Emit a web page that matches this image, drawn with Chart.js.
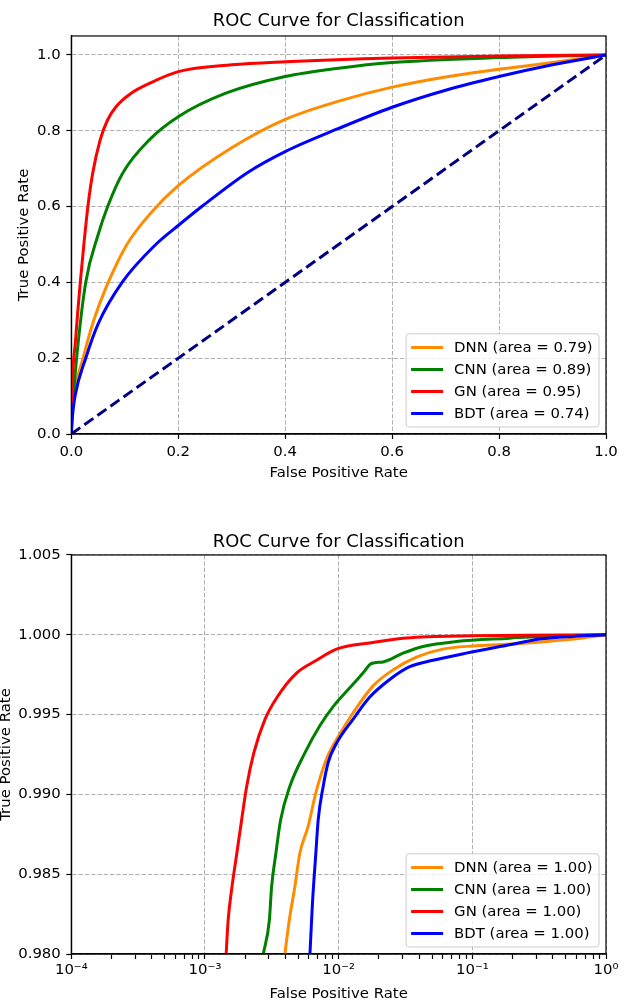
<!DOCTYPE html>
<html>
<head>
<meta charset="utf-8">
<script src="https://cdn.jsdelivr.net/npm/chart.js@4.4.0/dist/chart.umd.min.js"></script>
<style>
  html, body { margin: 0; padding: 0; background: #fff; }
  canvas { display: block; }
</style>
</head>
<body>
<canvas id="roc-lin" width="630" height="495"></canvas>
<canvas id="roc-log" width="630" height="508"></canvas>
<script>
// ── Données ──────────────────────────────────────────────────────────────────
const models = ['DNN', 'CNN', 'GN', 'BDT'];
const modelColors = ['#ff8c00', '#008000', '#ff0000', '#0000ff'];
const areasLin = [0.79, 0.89, 0.95, 0.74];
const areasLog = [1.00, 1.00, 1.00, 1.00];

// courbes ROC, échelle linéaire
const dnnFpr = [0, 0.0015, 0.005, 0.022, 0.042, 0.066, 0.104, 0.15, 0.2, 0.3, 0.4, 0.5, 0.6, 0.7, 0.8, 0.9, 1.0];
const dnnTpr = [0, 0.045, 0.1, 0.2, 0.3, 0.39, 0.5, 0.585, 0.655, 0.755, 0.83, 0.878, 0.915, 0.942, 0.962, 0.98, 1.0];
const cnnFpr = [0, 0.002, 0.01, 0.027, 0.05, 0.068, 0.096, 0.146, 0.2, 0.289, 0.4, 0.5, 0.6, 0.8, 1.0];
const cnnTpr = [0, 0.06, 0.2, 0.4, 0.525, 0.6, 0.688, 0.776, 0.837, 0.899, 0.943, 0.965, 0.98, 0.993, 1.0];
const gnFpr = [0, 0.001, 0.008, 0.0168, 0.0235, 0.031, 0.040, 0.054, 0.068, 0.084, 0.112, 0.146, 0.2, 0.3, 0.4, 0.6, 0.8, 1.0];
const gnTpr = [0, 0.09, 0.248, 0.4, 0.5, 0.6, 0.688, 0.776, 0.829, 0.864, 0.899, 0.925, 0.956, 0.974, 0.982, 0.992, 0.997, 1.0];
const bdtFpr = [0, 0.002, 0.007, 0.027, 0.05, 0.095, 0.158, 0.2, 0.244, 0.33, 0.4, 0.5, 0.6, 0.7, 0.8, 0.9, 1.0];
const bdtTpr = [0, 0.045, 0.1, 0.2, 0.29, 0.4, 0.5, 0.55, 0.6, 0.69, 0.745, 0.806, 0.862, 0.907, 0.943, 0.974, 1.0];
const chanceFpr = [0, 1];
const chanceTpr = [0, 1];

// zoom près de TPR = 1, FPR en log
const dnnFprZoom = [3.96e-3, 4.27e-3, 4.70e-3, 5.12e-3, 5.91e-3, 6.75e-3, 8.1e-3, 9.9e-3, 1.28e-2, 1.81e-2, 2.55e-2, 3.82e-2, 6.0e-2, 0.101, 0.18, 0.378, 0.67, 1];
const dnnTprZoom = [0.9800, 0.9821, 0.9842, 0.9863, 0.9880, 0.9901, 0.9922, 0.9936, 0.9951, 0.9968, 0.9978, 0.9986, 0.9991, 0.9993, 0.9994, 0.9996, 0.9998, 1];
const cnnFprZoom = [2.73e-3, 3.03e-3, 3.15e-3, 3.39e-3, 3.68e-3, 4.31e-3, 5.59e-3, 7.23e-3, 9.1e-3, 1.25e-2, 1.52e-2, 1.76e-2, 2.15e-2, 3.03e-2, 4.28e-2, 7.6e-2, 0.19, 0.32, 1];
const cnnTprZoom = [0.9800, 0.9821, 0.9842, 0.9863, 0.9884, 0.9905, 0.9926, 0.9943, 0.9955, 0.9968, 0.9976, 0.9982, 0.9983, 0.99885, 0.99927, 0.99958, 0.99979, 0.9999, 1];
const gnFprZoom = [1.44e-3, 1.49e-3, 1.58e-3, 1.73e-3, 1.88e-3, 2.05e-3, 2.32e-3, 2.81e-3, 3.47e-3, 4.84e-3, 6.83e-3, 9.63e-3, 1.76e-2, 3.21e-2, 0.101, 1];
const gnTprZoom = [0.9800, 0.9821, 0.9840, 0.9863, 0.9884, 0.9905, 0.9926, 0.9947, 0.9961, 0.9976, 0.9984, 0.9991, 0.9995, 0.9998, 0.99994, 1];
const bdtFprZoom = [6.1e-3, 6.37e-3, 6.75e-3, 7.03e-3, 7.66e-3, 8.35e-3, 9.64e-3, 1.28e-2, 1.71e-2, 2.41e-2, 3.40e-2, 5.08e-2, 9.0e-2, 0.19, 0.319, 0.565, 1];
const bdtTprZoom = [0.9800, 0.9832, 0.9863, 0.9884, 0.9905, 0.9920, 0.9932, 0.9947, 0.9961, 0.9972, 0.9980, 0.9984, 0.99885, 0.99937, 0.99973, 0.9999, 1];

// graduations
const linTicks = [0, 0.2, 0.4, 0.6, 0.8, 1.0];
const zoomTprTicks = [0.980, 0.985, 0.990, 0.995, 1.000, 1.005];
const logDecades = [-4, -3, -2, -1, 0];
const logMinors = [2, 3, 4, 5, 6, 7, 8, 9];

// ── Style commun ─────────────────────────────────────────────────────────────
Chart.defaults.font.family = '"DejaVu Sans", sans-serif';
Chart.defaults.color = '#000';

const FONT = 14.9;
const gridColor = '#b0b0b0';

const supMap = { '-': '\u207b', '0': '\u2070', '1': '\u00b9', '2': '\u00b2', '3': '\u00b3', '4': '\u2074',
    '5': '\u2075', '6': '\u2076', '7': '\u2077', '8': '\u2078', '9': '\u2079' };
const decadeLabel = v => '10' + String(Math.round(Math.log10(v))).split('').map(c => supMap[c]).join('');

function curve(label, color, xs, ys, order, dash) {
    return {
        label,
        data: xs.map((x, i) => ({ x, y: ys[i] })),
        borderColor: color,
        backgroundColor: color,
        borderWidth: 3,
        borderDash: dash || [],
        pointRadius: 0,
        fill: false,
        cubicInterpolationMode: 'monotone',
        order,
    };
}

function axis(extra) {
    return Object.assign({
        ticks: { color: '#000', font: { size: FONT }, maxRotation: 0, minRotation: 0, autoSkip: false },
        grid: { color: gridColor, lineWidth: 1, tickLength: 5, tickColor: '#000', tickWidth: 1.2 },
        border: { display: true, color: '#000', width: 1.2, dash: [4.4, 1.9] },
    }, extra);
}

// cadre noir autour de la zone de tracé
const framePlugin = {
    id: 'frame',
    afterDatasetsDraw(chart) {
        const { ctx, chartArea: a } = chart;
        ctx.save();
        ctx.strokeStyle = '#000';
        ctx.lineWidth = 1.2;
        ctx.strokeRect(a.left, a.top, a.right - a.left, a.bottom - a.top);
        ctx.restore();
    },
};

// légende façon matplotlib, en bas à droite dans la zone de tracé
function insetLegend(labels) {
    return {
        id: 'insetLegend',
        afterDraw(chart) {
            const { ctx, chartArea: a } = chart;
            ctx.save();
            ctx.font = FONT + 'px "DejaVu Sans"';
            const textW = Math.max(...labels.map(l => ctx.measureText(l).width));
            const rowH = 22, padL = 5, handle = 32, gap = 11, padR = 6.5, padY = 2.6, margin = 7;
            const w = padL + handle + gap + textW + padR;
            const h = labels.length * rowH + 2 * padY;
            const x0 = a.right - margin - w;
            const y0 = a.bottom - margin - h;
            ctx.beginPath();
            ctx.roundRect(x0, y0, w, h, 3);
            ctx.fillStyle = 'rgba(255,255,255,0.8)';
            ctx.fill();
            ctx.strokeStyle = '#cccccc';
            ctx.lineWidth = 1;
            ctx.stroke();
            labels.forEach((l, i) => {
                const cy = y0 + padY + rowH * (i + 0.5);
                ctx.strokeStyle = modelColors[i];
                ctx.lineWidth = 3;
                ctx.beginPath();
                ctx.moveTo(x0 + padL, cy);
                ctx.lineTo(x0 + padL + handle, cy);
                ctx.stroke();
                ctx.fillStyle = '#000';
                ctx.textBaseline = 'middle';
                ctx.fillText(l, x0 + padL + handle + gap, cy + 1);
            });
            ctx.restore();
        },
    };
}

const title = (padTop, padBottom) => ({
    display: true,
    text: 'ROC Curve for Classification',
    fullSize: false,
    color: '#000',
    font: { size: 17.9, weight: 'normal' },
    padding: { top: padTop, bottom: padBottom },
});

// ── ROC linéaire ────────────────────────────────────────────────────────────
const linLabels = models.map((m, i) => `${m} (area = ${areasLin[i].toFixed(2)})`);
new Chart(document.getElementById('roc-lin'), {
    type: 'line',
    data: {
        datasets: [
            curve(linLabels[0], modelColors[0], dnnFpr, dnnTpr, 5),
            curve(linLabels[1], modelColors[1], cnnFpr, cnnTpr, 4),
            curve(linLabels[2], modelColors[2], gnFpr, gnTpr, 3),
            curve(linLabels[3], modelColors[3], bdtFpr, bdtTpr, 2),
            curve('chance', '#000080', chanceFpr, chanceTpr, 1, [11, 5]),
        ],
    },
    options: {
        responsive: false,
        animation: false,
        layout: { padding: { left: 0, right: 24, top: 0, bottom: 0 } },
        plugins: {
            legend: { display: false },
            tooltip: { enabled: false },
            title: title(11, 3.5),
        },
        scales: {
            x: axis({
                type: 'linear', position: 'bottom', min: 0, max: 1,
                afterFit: s => { s.height = 61; },
                afterBuildTicks: s => { s.ticks = linTicks.map(v => ({ value: v })); },
                ticks: { color: '#000', font: { size: FONT }, maxRotation: 0, autoSkip: false, padding: 4.5,
                    callback: v => v.toFixed(1) },
                title: { display: true, text: 'False Positive Rate', color: '#000', font: { size: FONT },
                    padding: { top: 0, bottom: 13.4 } },
            }),
            y: axis({
                type: 'linear', position: 'left', min: 0, max: 1.05,
                afterFit: s => { s.width = 71.3; },
                afterBuildTicks: s => { s.ticks = linTicks.map(v => ({ value: v })); },
                ticks: { color: '#000', font: { size: FONT }, autoSkip: false, padding: 5.5,
                    callback: v => v.toFixed(1) },
                title: { display: true, text: 'True Positive Rate', color: '#000', font: { size: FONT },
                    padding: { top: 15, bottom: 0 } },
            }),
        },
    },
    plugins: [framePlugin, insetLegend(linLabels)],
});

// ── ROC zoomée, FPR logarithmique ───────────────────────────────────────────
const logLabels = models.map((m, i) => `${m} (area = ${areasLog[i].toFixed(2)})`);
const logTicks = [];
logDecades.forEach(d => {
    logTicks.push({ value: Math.pow(10, d), major: true });
    if (d < 0) logMinors.forEach(k => logTicks.push({ value: k * Math.pow(10, d), major: false }));
});

new Chart(document.getElementById('roc-log'), {
    type: 'line',
    data: {
        datasets: [
            curve(logLabels[0], modelColors[0], dnnFprZoom, dnnTprZoom, 5),
            curve(logLabels[1], modelColors[1], cnnFprZoom, cnnTprZoom, 4),
            curve(logLabels[2], modelColors[2], gnFprZoom, gnTprZoom, 3),
            curve(logLabels[3], modelColors[3], bdtFprZoom, bdtTprZoom, 2),
        ],
    },
    options: {
        responsive: false,
        animation: false,
        layout: { padding: { left: 0, right: 24, top: 0, bottom: 0 } },
        plugins: {
            legend: { display: false },
            tooltip: { enabled: false },
            title: title(36.3, 2.2),
        },
        scales: {
            x: axis({
                type: 'logarithmic', position: 'bottom', min: 1e-4, max: 1,
                afterFit: s => { s.height = 49; },
                afterBuildTicks: s => { s.ticks = logTicks.map(t => ({ value: t.value, major: t.major })); },
                ticks: { color: '#000', font: { size: FONT }, maxRotation: 0, autoSkip: false, padding: 2,
                    callback: (v, i, t) => (t[i] && t[i].major ? decadeLabel(v) : '') },
                grid: {
                    color: c => (c.tick && c.tick.major ? gridColor : 'rgba(0,0,0,0)'),
                    lineWidth: 1, tickLength: 5, tickColor: '#000', tickWidth: 1.2,
                },
                title: { display: true, text: 'False Positive Rate', color: '#000', font: { size: FONT },
                    padding: { top: 0, bottom: 0 } },
            }),
            y: axis({
                type: 'linear', position: 'left', min: 0.980, max: 1.005,
                afterFit: s => { s.width = 71.3; },
                afterBuildTicks: s => { s.ticks = zoomTprTicks.map(v => ({ value: v })); },
                ticks: { color: '#000', font: { size: FONT }, autoSkip: false, padding: 5.5,
                    callback: v => v.toFixed(3) },
                title: { display: true, text: 'True Positive Rate', color: '#000', font: { size: FONT },
                    padding: { top: -2.4, bottom: 0 } },
            }),
        },
    },
    plugins: [framePlugin, insetLegend(logLabels)],
});
</script>
</body>
</html>
